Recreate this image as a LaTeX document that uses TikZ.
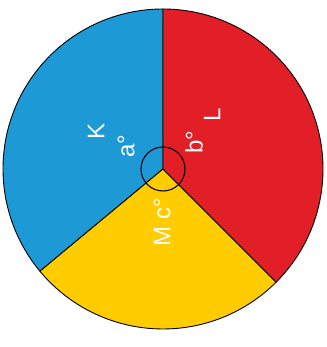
\documentclass[tikz,border=0pt]{standalone}
\usepackage{fontspec}
\setmainfont{Liberation Sans}
\usepackage{xcolor}
\usetikzlibrary{positioning}

\definecolor{kblue}{RGB}{29,154,214}
\definecolor{lred}{RGB}{226,30,38}
\definecolor{myellow}{RGB}{255,204,0}

\begin{document}
\begin{tikzpicture}[
  x=1pt, y=1pt,
  sector/.style={draw=black, line width=0.9pt, line join=round},
  lbl/.style={text=white, rotate=90, inner sep=0pt,
              font=\fontsize{24}{28}\selectfont}
]
\useasboundingbox (0,0) rectangle (326,347);
\coordinate (o) at (163,178);

% three sectors
\filldraw[sector, fill=kblue] (o) -- ++(90:160)
  arc[start angle=90, end angle=219.7, radius=160] -- cycle;
\filldraw[sector, fill=myellow] (o) -- ++(219.7:160)
  arc[start angle=219.7, end angle=315, radius=160] -- cycle;
\filldraw[sector, fill=lred] (o) -- ++(315:160)
  arc[start angle=315, end angle=450, radius=160] -- cycle;

% angle mark at the centre
\draw[line width=1.1pt] (o) circle[radius=22];

\node[lbl] (k) at (96,215) {K};
\node[lbl] (a) at (126,201) {a°};
\node[lbl] (l) at (212,232) {L};
\node[lbl] (b) at (194,205) {b°};
\node[lbl] (m) at (162,125) {M c°};
\end{tikzpicture}
\end{document}
